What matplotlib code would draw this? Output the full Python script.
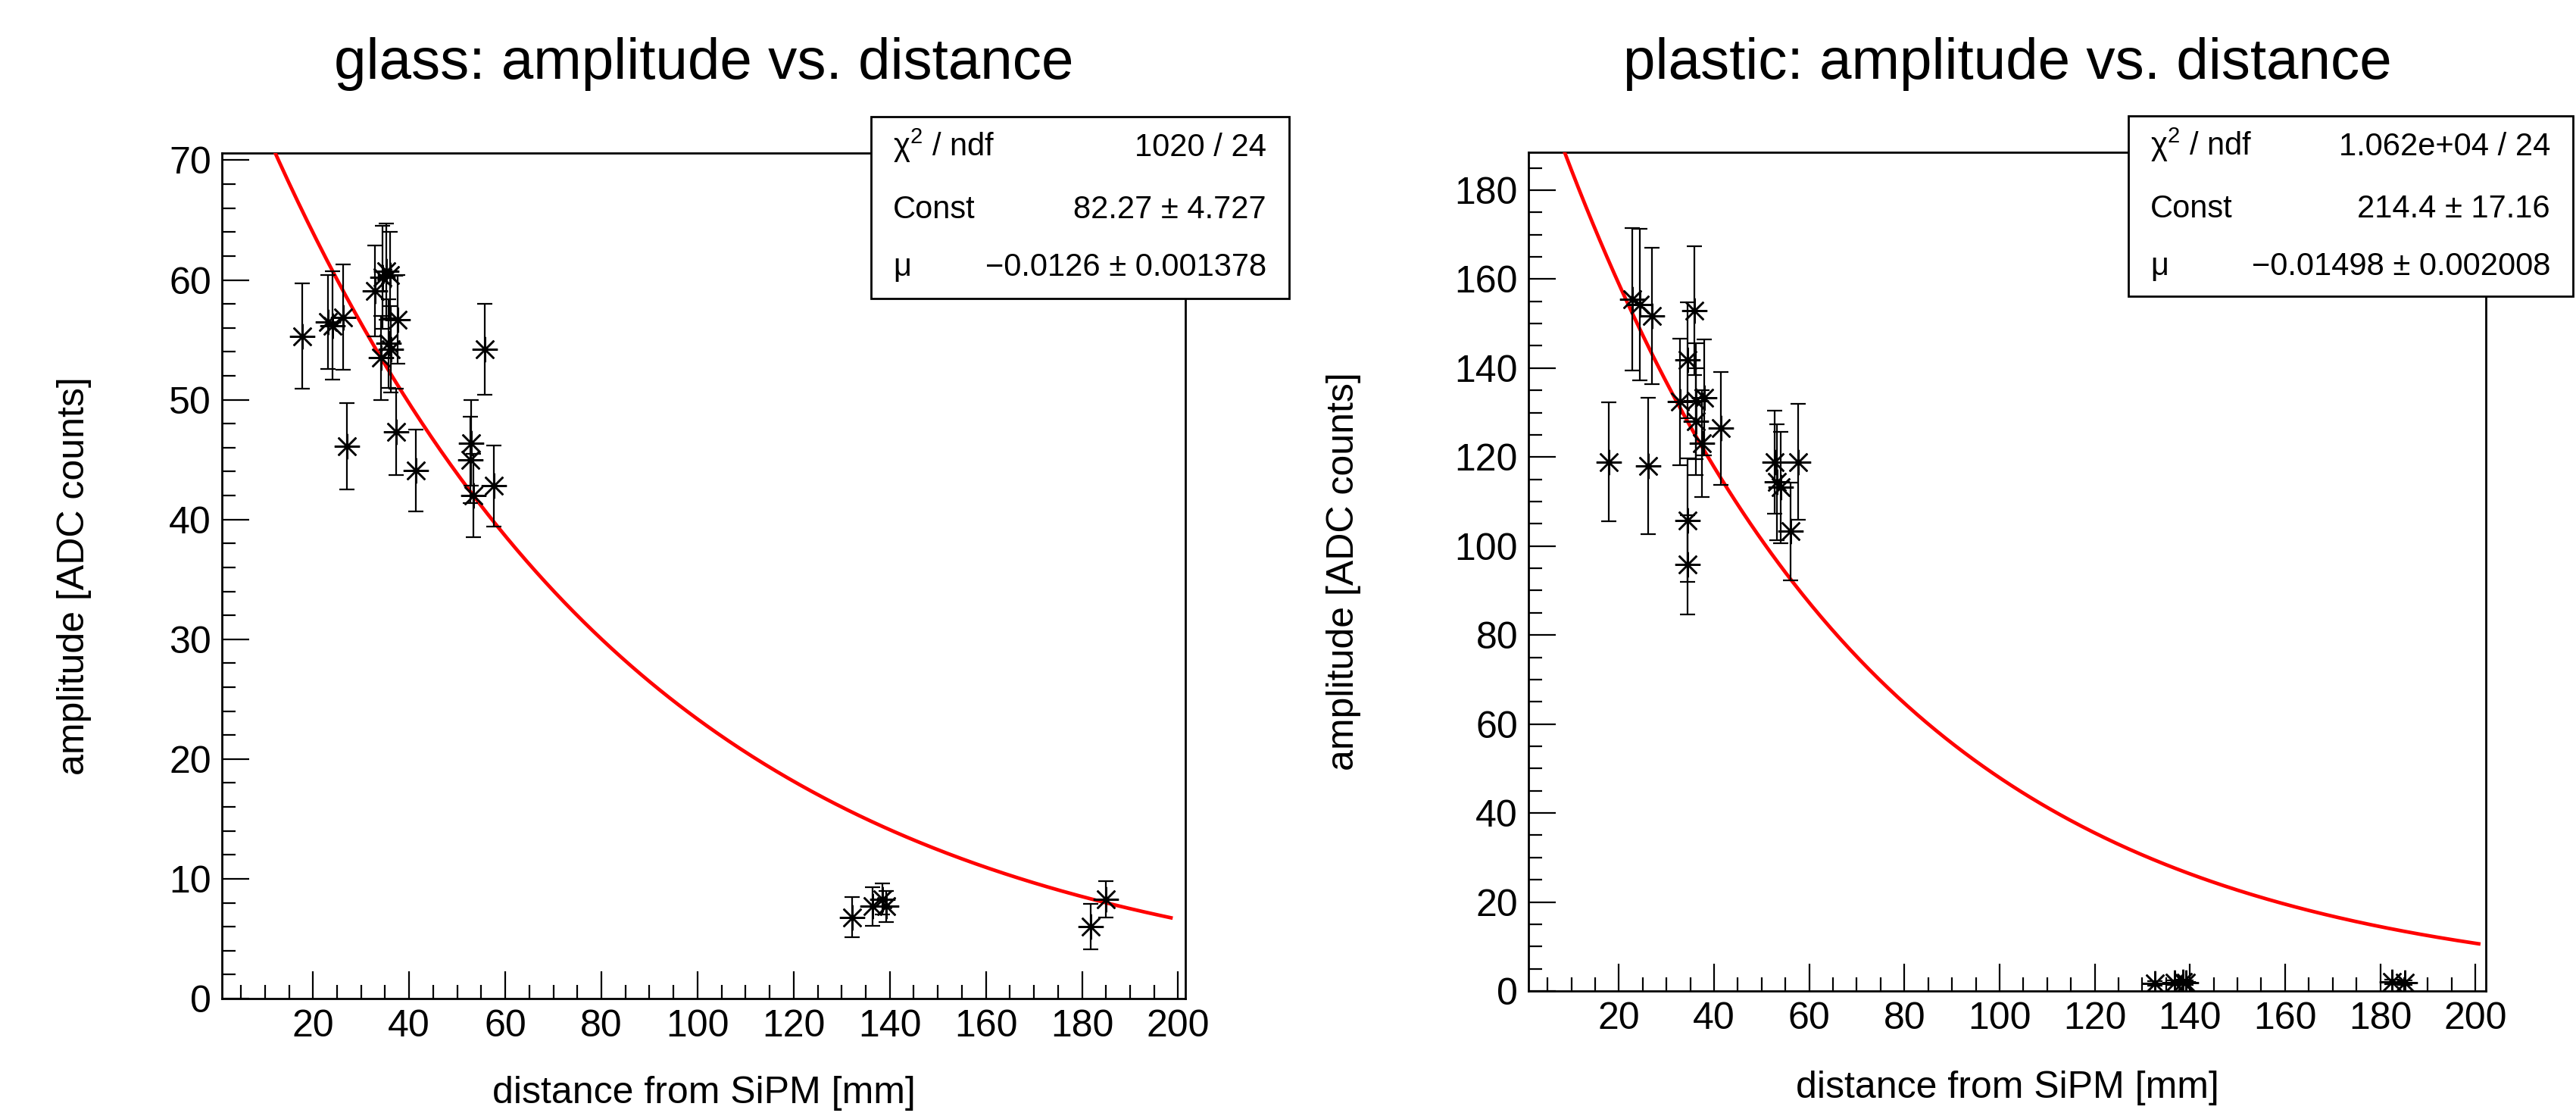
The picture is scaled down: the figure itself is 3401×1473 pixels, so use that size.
import matplotlib
matplotlib.use("Agg")
import matplotlib.pyplot as plt
from matplotlib.patches import Rectangle
from matplotlib.ticker import MultipleLocator
import numpy as np

plt.rcParams["font.family"] = ["Liberation Sans", "DejaVu Sans"]
plt.rcParams["mathtext.fontset"] = "custom"
plt.rcParams["mathtext.rm"] = "Liberation Sans"
plt.rcParams["mathtext.it"] = "Liberation Sans"

W, H = 3401, 1473

# glass: distance [mm], amplitude [ADC counts], error
glass_x = [17.8, 23.1, 24.1, 26.2, 27.0, 32.9, 34.2, 34.4, 35.3, 35.7, 36.0, 36.2, 37.3,
           37.6, 41.4, 52.7, 52.9, 53.4, 55.8, 57.6, 132.2, 136.4, 138.5, 139.2, 181.8, 184.9]
glass_y = [55.3, 56.5, 56.2, 56.9, 46.1, 59.1, 53.5, 60.2, 60.7, 54.7, 60.4, 54.2, 47.3,
           56.7, 44.1, 45.0, 46.4, 42.0, 54.2, 42.8, 6.8, 7.7, 8.3, 7.7, 6.0, 8.3]
glass_err = [4.4, 3.9, 4.5, 4.4, 3.6, 3.8, 3.5, 4.3, 4.0, 3.7, 3.6, 3.6, 3.6,
             3.7, 3.4, 3.6, 3.6, 3.5, 3.8, 3.4, 1.7, 1.6, 1.3, 1.3, 1.9, 1.5]
glass_fit = {"Const": 82.27, "mu": -0.0126}
glass_stats = [("χ$^{2}$ / ndf", "1020 / 24"),
               ("Const", "82.27 ± 4.727"),
               ("μ", "−0.0126 ± 0.001378")]

# plastic
plastic_x = [17.8, 22.8, 24.4, 26.2, 27.0, 32.9, 34.5, 34.5, 34.5, 35.9, 36.2, 36.2, 37.4,
             38.0, 41.4, 52.8, 53.2, 54.0, 56.1, 57.7, 132.6, 136.7, 138.6, 139.2, 182.4, 185.1]
plastic_y = [118.9, 155.4, 154.3, 118.0, 151.7, 132.4, 141.8, 105.8, 95.8, 152.9, 132.6, 128.0, 123.1,
             133.4, 126.5, 118.9, 114.4, 113.2, 103.3, 118.9, 1.7, 1.9, 2.0, 1.8, 2.0, 1.9]
plastic_err = [13.4, 16.0, 17.0, 15.4, 15.3, 14.2, 13.0, 13.9, 11.2, 14.5, 13.0, 12.0, 12.0,
               13.0, 12.7, 11.6, 13.0, 12.5, 11.0, 13.0, 0.5, 0.5, 0.5, 0.5, 0.5, 0.5]
plastic_fit = {"Const": 214.4, "mu": -0.01498}
plastic_stats = [("χ$^{2}$ / ndf", "1.062e+04 / 24"),
                 ("Const", "214.4 ± 17.16"),
                 ("μ", "−0.01498 ± 0.002008")]

fig = plt.figure(figsize=(W / 100, H / 100), dpi=100, facecolor="white")


def fx(p):
    return p / W


def fy(p):
    return 1 - p / H


def panel(frame, x, y, err, fit, stats, xlim, ylim, ystep, yminor, fit_end,
          title, ylab_x, xlab_y, box):
    l, t, r, b = frame
    ax = fig.add_axes([fx(l), fy(b), (r - l) / W, (b - t) / H])
    for s in ax.spines.values():
        s.set_linewidth(2.0)
    ax.set_xlim(*xlim)
    ax.set_ylim(*ylim)
    ax.xaxis.set_major_locator(MultipleLocator(20))
    ax.xaxis.set_minor_locator(MultipleLocator(5))
    ax.yaxis.set_major_locator(MultipleLocator(ystep))
    ax.yaxis.set_minor_locator(MultipleLocator(yminor))
    ax.tick_params(which="both", direction="in", top=False, right=False, width=1.6,
                   labelsize=36, pad=10)
    ax.tick_params(which="major", length=26)
    ax.tick_params(which="minor", length=13)

    xs = np.linspace(xlim[0], fit_end, 400)
    ax.plot(xs, fit["Const"] * np.exp(fit["mu"] * xs), color="#ff0000", lw=3.4, zorder=3)
    ax.errorbar(x, y, yerr=err, fmt="none", ecolor="black", elinewidth=1.6,
                capsize=7, capthick=1.6, zorder=4)
    ax.plot(x, y, ls="none", marker=(8, 2, 0), ms=24, mew=1.8, mec="black", zorder=5)

    cx = (l + r) / 2
    fig.text(fx(cx), fy(84), title, fontsize=55, ha="center", va="center")
    fig.text(fx(cx), fy(xlab_y), "distance from SiPM [mm]", fontsize=36, ha="center", va="center")
    fig.text(fx(ylab_x), fy((t + b) / 2), "amplitude [ADC counts]", fontsize=36,
             ha="center", va="center", rotation=90)

    bl, bt, br, bb = box
    fig.patches.append(Rectangle((fx(bl), fy(bb)), (br - bl) / W, (bb - bt) / H,
                                 transform=fig.transFigure, facecolor="white",
                                 edgecolor="black", lw=2.0, zorder=10))
    for (lab, val), off in zip(stats, [52, 134, 210]):
        fig.text(fx(bl + 29), fy(bt + off), lab, fontsize=30, ha="left", va="baseline", zorder=11)
        fig.text(fx(br - 30), fy(bt + off), val, fontsize=30, ha="right", va="baseline", zorder=11)
    return ax


panel((293, 202, 1565, 1318), glass_x, glass_y, glass_err, glass_fit, glass_stats,
      (1.05, 201.5), (0, 70.6), 10, 2, 198.5,
      "glass: amplitude vs. distance", 98, 1443, (1150, 154, 1702, 394))

panel((2018, 201, 3282, 1308), plastic_x, plastic_y, plastic_err, plastic_fit, plastic_stats,
      (1.0, 202.2), (0, 188.5), 20, 5, 200.7,
      "plastic: amplitude vs. distance", 1774, 1436, (2810, 153, 3397, 391))

fig.savefig("out.png", dpi=100, facecolor="white")
